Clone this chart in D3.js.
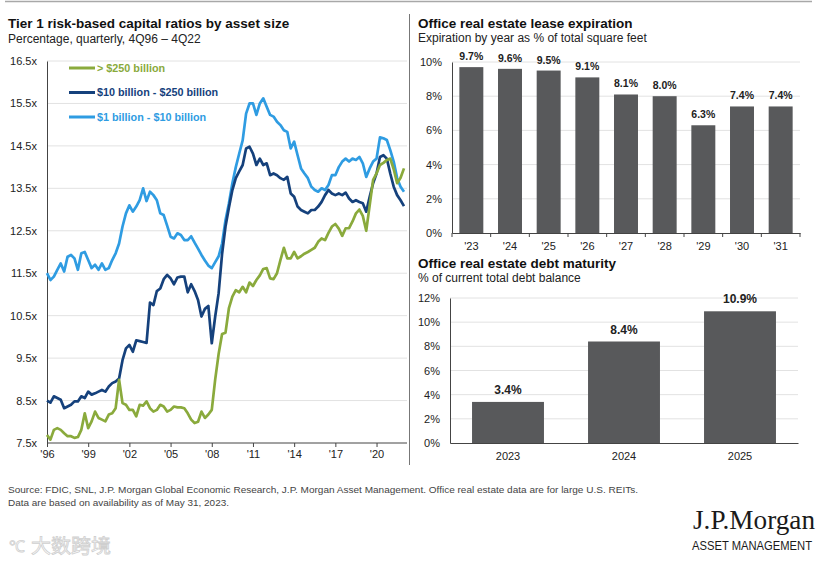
<!DOCTYPE html>
<html lang="en">
<head>
<meta charset="UTF-8">
<title>Tier 1 capital ratios and office real estate</title>
<script src="https://cdn.jsdelivr.net/npm/d3@7"></script>
<style>
    body {
        margin: 0;
        background: #fff;
    }

    svg {
        display: block;
        font-family: "Liberation Sans", Arial, sans-serif;
    }

    .grid line {
        stroke: #e2e2e2;
        stroke-width: 1px;
    }

    .title {
        font-weight: bold;
        font-size: 13.5px;
        fill: #111;
    }

    .subtitle {
        font-size: 12px;
        fill: #222;
    }

    .axis text {
        font-size: 11px;
        fill: #222;
    }

    .axis .domain,
    .axis line {
        stroke: #444;
    }

    .series {
        fill: none;
        stroke-width: 2.7px;
        stroke-linejoin: round;
    }

    .legend-text {
        font-weight: bold;
        font-size: 10.8px;
    }

    .bar {
        fill: #58595b;
    }

    .bar-label {
        font-weight: bold;
        fill: #222;
        text-anchor: middle;
    }

    .source {
        font-size: 9.5px;
        fill: #444;
    }
</style>
</head>
<body>
<svg width="831" height="563"></svg>
<script>

    // tier 1 ratios, quarterly 4Q96 .. 4Q22 (105 points each)
    var over250 = [
        7.69, 7.58, 7.81, 7.85, 7.81, 7.73, 7.66, 7.66, 7.62, 7.64,
        7.81, 8.2, 7.85, 8.01, 8.24, 8.09, 8.05, 8.01, 8.17, 8.2,
        8.32, 8.99, 8.44, 8.4, 8.28, 8.28, 8.13, 8.4, 8.38, 8.48,
        8.32, 8.24, 8.28, 8.4, 8.36, 8.24, 8.28, 8.36, 8.34, 8.34,
        8.32, 8.2, 8.05, 7.97, 8.0, 8.24, 8.09, 8.17, 8.28, 9.0,
        9.6, 10.07, 10.1, 10.68, 10.95, 11.1, 11.05, 11.18, 11.05, 11.28,
        11.2, 11.34, 11.45, 11.6, 11.62, 11.38, 11.36, 11.5, 11.81, 12.1,
        11.85, 11.85, 12.0, 11.85, 11.9, 11.96, 12.0, 12.05, 12.1, 12.24,
        12.32, 12.28, 12.45, 12.6, 12.66, 12.55, 12.38, 12.56, 12.56, 12.72,
        12.91, 13.0, 12.85, 12.5, 13.1, 13.7, 13.85, 14.05, 14.1, 14.17,
        14.2, 13.95, 13.62, 13.75, 13.97
    ];
    var mid10to250 = [
        8.5, 8.45, 8.6, 8.56, 8.52, 8.32, 8.36, 8.4, 8.48, 8.48,
        8.6, 8.56, 8.71, 8.64, 8.67, 8.71, 8.75, 8.71, 8.83, 8.91,
        8.95, 9.02, 9.45, 9.73, 9.81, 9.65, 9.92, 9.9, 9.88, 9.86,
        10.81, 10.75, 11.08, 11.14, 11.36, 11.46, 11.38, 11.24, 11.4, 11.42,
        11.42, 11.05, 11.24, 11.08, 10.87, 10.48, 10.66, 10.73, 9.85, 10.48,
        11.03, 11.95, 12.6, 13.05, 13.46, 13.74, 13.9, 14.05, 14.44, 14.48,
        14.32, 14.05, 14.2, 14.05, 14.09, 13.81, 13.85, 13.81, 13.74, 13.7,
        13.77, 13.38, 13.3, 13.07, 12.99, 12.95, 12.91, 12.99, 12.99, 13.07,
        13.18, 13.34, 13.46, 13.38, 13.34, 13.38, 13.34, 13.4, 13.26, 13.18,
        13.22, 13.18, 13.15, 12.95, 13.3, 13.62, 13.85, 14.24, 14.28, 14.2,
        13.85, 13.54, 13.34, 13.22, 13.08
    ];
    var small1to10 = [
        11.5, 11.34, 11.42, 11.58, 11.73, 11.54, 11.89, 11.93, 11.85, 11.58,
        11.97, 12.0, 11.81, 11.62, 11.7, 11.58, 11.73, 11.58, 11.62, 11.81,
        11.97, 12.2, 12.6, 12.91, 13.1, 12.95, 13.07, 13.22, 13.5, 13.2,
        13.42, 13.34, 13.22, 12.91, 12.87, 12.62, 12.36, 12.32, 12.44, 12.4,
        12.28, 12.28, 12.37, 12.22, 12.08, 11.93, 11.8, 11.68, 11.62, 11.76,
        11.9, 12.2, 12.75, 13.15, 13.62, 14.0, 14.32, 14.63, 15.26, 15.5,
        15.5, 15.23, 15.5, 15.62, 15.42, 15.23, 15.19, 15.07, 14.99, 14.87,
        14.83, 14.44, 14.6, 14.28, 13.97, 13.85, 13.74, 13.54, 13.46, 13.42,
        13.5, 13.46, 13.58, 13.81, 13.81, 14.0, 14.13, 14.2, 14.13, 14.2,
        14.17, 14.24, 14.09, 13.77, 13.97, 14.13, 14.2, 14.7, 14.68, 14.64,
        14.4, 14.13, 13.74, 13.54, 13.42
    ];
    var seriesNames = ['> $250 billion', '$10 billion - $250 billion', '$1 billion - $10 billion'];
    var seriesColors = ['#8aaa3c', '#15417c', '#2f9ce2'];
    var ratioTicks = [7.5, 8.5, 9.5, 10.5, 11.5, 12.5, 13.5, 14.5, 15.5, 16.5];
    var yearLabels = ["'96", "'99", "'02", "'05", "'08", "'11", "'14", "'17", "'20"];

    // office lease expiration
    var leaseYears = ["'23", "'24", "'25", "'26", "'27", "'28", "'29", "'30", "'31"];
    var leaseValues = [9.7, 9.6, 9.5, 9.1, 8.1, 8.0, 6.3, 7.4, 7.4];
    var leaseTicks = [0, 2, 4, 6, 8, 10];

    // office debt maturity
    var debtYears = ['2023', '2024', '2025'];
    var debtValues = [3.4, 8.4, 10.9];
    var debtTicks = [0, 2, 4, 6, 8, 10, 12];

    var svg = d3.select('svg');

    svg.append('rect').attr('width', 831).attr('height', 563).attr('fill', '#fff');

    // frame lines
    svg.append('line')
        .attr('x1', 5).attr('x2', 812).attr('y1', 1.5).attr('y2', 1.5)
        .attr('stroke', '#a8a8a8').attr('stroke-width', 1.5);
    svg.append('line')
        .attr('x1', 409.5).attr('x2', 409.5).attr('y1', 14).attr('y2', 465)
        .attr('stroke', '#777').attr('stroke-width', 1);

    // ---------- left: tier 1 ratios ----------
    svg.append('text').attr('class', 'title').attr('x', 8).attr('y', 28)
        .text('Tier 1 risk-based capital ratios by asset size');
    svg.append('text').attr('class', 'subtitle').attr('x', 8).attr('y', 43)
        .text('Percentage, quarterly, 4Q96 \u2013 4Q22');

    var x = d3.scaleLinear().domain([0, over250.length - 1]).range([47, 404]);
    var y = d3.scaleLinear().domain([7.5, 16.5]).range([443, 61]);

    svg.append('g').attr('class', 'grid')
        .selectAll('line')
        .data(ratioTicks.slice(1))
        .enter()
        .append('line')
        .attr('x1', 47).attr('x2', 407)
        .attr('y1', function (d) { return y(d); })
        .attr('y2', function (d) { return y(d); });

    var yAxis = d3.axisLeft(y)
        .tickValues(ratioTicks)
        .tickFormat(function (d) { return d3.format('.1f')(d) + 'x'; })
        .tickSize(0)
        .tickPadding(10);
    svg.append('g').attr('class', 'axis')
        .attr('transform', 'translate(47,0)')
        .call(yAxis);

    var xAxis = d3.axisBottom(x)
        .tickValues(d3.range(0, 97, 12))
        .tickFormat(function (d, i) { return yearLabels[i]; })
        .tickSize(4)
        .tickSizeOuter(0)
        .tickPadding(3);
    var xAxisG = svg.append('g').attr('class', 'axis')
        .attr('transform', 'translate(0,443)')
        .call(xAxis);
    xAxisG.select('.domain').attr('d', 'M47,0H407');

    var line = d3.line()
        .x(function (d, i) { return x(i); })
        .y(function (d) { return y(d); });

    var allSeries = [over250, mid10to250, small1to10];
    // draw green last so it sits on top like in the source
    [2, 1, 0].forEach(function (k) {
        svg.append('path')
            .datum(allSeries[k])
            .attr('class', 'series')
            .attr('stroke', seriesColors[k])
            .attr('d', line);
    });

    var legend = svg.append('g');
    seriesNames.forEach(function (name, i) {
        var ly = 68 + i * 24.5;
        legend.append('line')
            .attr('x1', 69).attr('x2', 95).attr('y1', ly).attr('y2', ly)
            .attr('stroke', seriesColors[i]).attr('stroke-width', 3);
        legend.append('text')
            .attr('class', 'legend-text')
            .attr('x', 97).attr('y', ly)
            .attr('dy', '0.36em')
            .attr('fill', seriesColors[i])
            .text(name);
    });

    // ---------- right top: lease expiration ----------
    svg.append('text').attr('class', 'title').attr('x', 418).attr('y', 27.5)
        .text('Office real estate lease expiration');
    svg.append('text').attr('class', 'subtitle').attr('x', 418).attr('y', 42)
        .text('Expiration by year as % of total square feet');

    var lx = d3.scaleBand().domain(leaseYears).range([452, 800])
        .paddingInner(0.38).paddingOuter(0.19);
    var ly = d3.scaleLinear().domain([0, 10]).range([233, 62]);

    svg.append('g').attr('class', 'grid')
        .selectAll('line')
        .data(leaseTicks.slice(1))
        .enter()
        .append('line')
        .attr('x1', 452).attr('x2', 800)
        .attr('y1', function (d) { return ly(d); })
        .attr('y2', function (d) { return ly(d); });

    svg.append('g').attr('class', 'axis')
        .attr('transform', 'translate(452,0)')
        .call(d3.axisLeft(ly).tickValues(leaseTicks)
            .tickFormat(function (d) { return d + '%'; })
            .tickSize(0).tickPadding(10));

    svg.selectAll('.lease-bar')
        .data(leaseValues)
        .enter()
        .append('rect')
        .attr('class', 'bar')
        .attr('x', function (d, i) { return lx(leaseYears[i]); })
        .attr('width', lx.bandwidth())
        .attr('y', function (d) { return ly(d); })
        .attr('height', function (d) { return ly(0) - ly(d); });

    svg.selectAll('.lease-label')
        .data(leaseValues)
        .enter()
        .append('text')
        .attr('class', 'bar-label')
        .style('font-size', '10.5px')
        .attr('x', function (d, i) { return lx(leaseYears[i]) + lx.bandwidth() / 2; })
        .attr('y', function (d) { return ly(d) - 7; })
        .text(function (d) { return d.toFixed(1) + '%'; });

    var leaseAxis = svg.append('g').attr('class', 'axis')
        .attr('transform', 'translate(0,233)')
        .call(d3.axisBottom(lx).tickSize(0).tickPadding(9).tickSizeOuter(0));
    // ticks sit between the bars
    var gap = (lx.step() - lx.bandwidth()) / 2;
    var bounds = leaseYears.map(function (d) { return lx(d) - gap; });
    bounds.push(800);
    leaseAxis.selectAll('.sep')
        .data(bounds)
        .enter()
        .append('line')
        .attr('class', 'sep')
        .attr('x1', function (d) { return d; })
        .attr('x2', function (d) { return d; })
        .attr('y1', 0).attr('y2', 4);

    // ---------- right bottom: debt maturity ----------
    svg.append('text').attr('class', 'title').attr('x', 418).attr('y', 268)
        .text('Office real estate debt maturity');
    svg.append('text').attr('class', 'subtitle').attr('x', 418).attr('y', 282)
        .text('% of current total debt balance');

    var dx = d3.scaleBand().domain(debtYears).range([450, 798])
        .paddingInner(0.38).paddingOuter(0.19);
    var dy = d3.scaleLinear().domain([0, 12]).range([443, 298]);

    svg.append('g').attr('class', 'grid')
        .selectAll('line')
        .data(debtTicks.slice(1))
        .enter()
        .append('line')
        .attr('x1', 450).attr('x2', 798)
        .attr('y1', function (d) { return dy(d); })
        .attr('y2', function (d) { return dy(d); });

    svg.append('g').attr('class', 'axis')
        .attr('transform', 'translate(450,0)')
        .call(d3.axisLeft(dy).tickValues(debtTicks)
            .tickFormat(function (d) { return d + '%'; })
            .tickSize(0).tickPadding(10));

    svg.selectAll('.debt-bar')
        .data(debtValues)
        .enter()
        .append('rect')
        .attr('class', 'bar')
        .attr('x', function (d, i) { return dx(debtYears[i]); })
        .attr('width', dx.bandwidth())
        .attr('y', function (d) { return dy(d); })
        .attr('height', function (d) { return dy(0) - dy(d); });

    svg.selectAll('.debt-label')
        .data(debtValues)
        .enter()
        .append('text')
        .attr('class', 'bar-label')
        .style('font-size', '12px')
        .attr('x', function (d, i) { return dx(debtYears[i]) + dx.bandwidth() / 2; })
        .attr('y', function (d) { return dy(d) - 8; })
        .text(function (d) { return d.toFixed(1) + '%'; });

    svg.append('g').attr('class', 'axis')
        .attr('transform', 'translate(0,443)')
        .call(d3.axisBottom(dx).tickSize(0).tickPadding(9).tickSizeOuter(0));

    // ---------- footer ----------
    svg.append('text').attr('class', 'source').attr('x', 8).attr('y', 493)
        .attr('textLength', 630).attr('lengthAdjust', 'spacingAndGlyphs')
        .text('Source: FDIC, SNL, J.P. Morgan Global Economic Research, J.P. Morgan Asset Management. Office real estate data are for large U.S. REITs.');
    svg.append('text').attr('class', 'source').attr('x', 8).attr('y', 506)
        .attr('textLength', 221).attr('lengthAdjust', 'spacingAndGlyphs')
        .text('Data are based on availability as of May 31, 2023.');

    svg.append('text')
        .attr('x', 693).attr('y', 529)
        .attr('textLength', 122).attr('lengthAdjust', 'spacingAndGlyphs')
        .style('font-family', '"Liberation Serif", "DejaVu Serif", serif')
        .style('font-size', '27px')
        .attr('fill', '#1a1a1a')
        .text('J.P.Morgan');
    svg.append('text')
        .attr('x', 692).attr('y', 550)
        .attr('textLength', 120).attr('lengthAdjust', 'spacingAndGlyphs')
        .style('font-size', '12px')
        .attr('fill', '#1a1a1a')
        .text('ASSET MANAGEMENT');

    // watermark
    svg.append('text')
        .attr('x', 31).attr('y', 553)
        .attr('textLength', 80).attr('lengthAdjust', 'spacingAndGlyphs')
        .style('font-family', '"Noto Sans CJK SC", sans-serif')
        .style('font-size', '19px')
        .attr('fill', 'none')
        .attr('stroke', '#cfcfcf')
        .attr('stroke-width', 0.8)
        .text('大数跨境');
    svg.append('text')
        .attr('x', 9).attr('y', 552)
        .style('font-size', '16px')
        .attr('fill', 'none')
        .attr('stroke', '#cfcfcf')
        .attr('stroke-width', 0.8)
        .text('℃');

</script>
</body>
</html>
